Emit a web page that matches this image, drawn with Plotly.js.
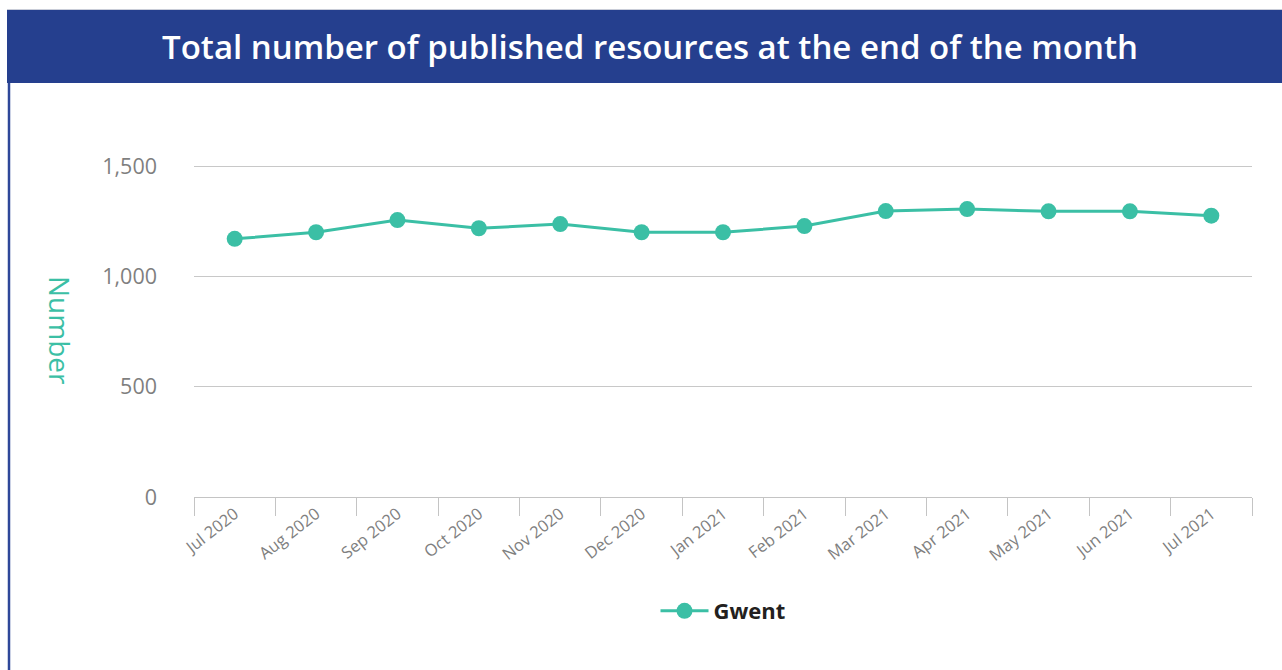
<!DOCTYPE html>
<html>
<head>
<meta charset="utf-8">
<script src="https://cdn.plot.ly/plotly-3.0.1.min.js"></script>
<style>
  html, body { margin: 0; padding: 0; background: #ffffff; }
  #chart { width: 1282px; height: 670px; }
</style>
</head>
<body>
<div id="chart"></div>
<script>
// ---- Data ----
const months = ["Jul 2020", "Aug 2020", "Sep 2020", "Oct 2020", "Nov 2020", "Dec 2020",
                "Jan 2021", "Feb 2021", "Mar 2021", "Apr 2021", "May 2021", "Jun 2021", "Jul 2021"];
const gwent = [1170, 1200, 1255, 1218, 1237, 1200, 1200, 1228, 1296, 1305, 1295, 1295, 1275];
const seriesName = "Gwent";
const yTickVals = [0, 500, 1000, 1500];
const chartTitle = "Total number of published resources at the end of the month";
const yTitle = "Number";

// ---- Layout geometry ----
const W = 1282, H = 670;
const M = { l: 194, r: 30, t: 144, b: 173 };
const plotW = W - M.l - M.r;
const plotH = H - M.t - M.b;
const px = x => (x - M.l) / plotW;          // pixel -> paper x
const py = y => (H - M.b - y) / plotH;      // pixel -> paper y

const teal = "#3bbfa5";
const navy = "#253f8e";
const grey = "#7f7f7f";

const trace = {
  type: "scatter",
  mode: "lines+markers",
  x: months,
  y: gwent,
  name: seriesName,
  line: { color: teal, width: 3 },
  marker: { color: teal, size: 16 },
  cliponaxis: false
};

const layout = {
  width: W, height: H,
  margin: M,
  paper_bgcolor: "#ffffff",
  plot_bgcolor: "#ffffff",
  font: { family: "Open Sans, Noto Sans, sans-serif", color: grey },
  title: {
    text: chartTitle,
    font: { family: "Open Sans, sans-serif", size: 33, color: "#ffffff", weight: 600 },
    xref: "container", yref: "container",
    x: 650 / W, xanchor: "center",
    y: 1 - 47 / H, yanchor: "middle"
  },
  xaxis: {
    type: "category",
    range: [-0.5, months.length - 0.5],
    tickson: "boundaries",
    ticks: "outside",
    ticklen: 18,
    tickwidth: 1,
    tickcolor: "#c4c4c4",
    showline: true,
    linecolor: "#c4c4c4",
    linewidth: 1,
    showgrid: false,
    zeroline: false,
    tickangle: -38,
    tickfont: { size: 16.5, color: grey, family: "Open Sans, sans-serif" },
    fixedrange: true
  },
  yaxis: {
    range: [0, 1600],
    tickvals: yTickVals,
    tickformat: ",d",
    showgrid: true,
    gridcolor: "#c8c8c8",
    gridwidth: 1,
    zeroline: false,
    showline: false,
    ticks: "",
    ticklabelstandoff: 36,
    tickfont: { size: 21.5, color: grey, family: "Open Sans, sans-serif" },
    fixedrange: true
  },
  showlegend: true,
  legend: {
    orientation: "h",
    x: 0.5, xanchor: "center",
    y: py(611), yanchor: "middle",
    itemwidth: 48,
    font: { size: 22, color: "#231f20", family: "Open Sans, sans-serif", weight: 700 },
    bgcolor: "rgba(0,0,0,0)"
  },
  annotations: [
    {
      text: yTitle,
      xref: "paper", yref: "paper",
      x: px(60), y: py(330),
      xanchor: "center", yanchor: "middle",
      textangle: 90,
      showarrow: false,
      font: { size: 28, color: teal, family: "Open Sans, sans-serif", weight: 500 }
    }
  ],
  shapes: [
    { type: "rect", xref: "paper", yref: "paper",
      x0: px(7), x1: px(W + 2), y0: py(83), y1: py(10),
      fillcolor: navy, line: { width: 0 }, layer: "above" },
    { type: "line", xref: "paper", yref: "paper",
      x0: px(7), x1: px(W + 2), y0: py(9.5), y1: py(9.5),
      line: { color: "#c9cdd8", width: 1 }, layer: "above" },
    { type: "line", xref: "paper", yref: "paper",
      x0: px(9), x1: px(9), y0: py(83), y1: py(H + 2),
      line: { color: "#2e4799", width: 2.5 }, layer: "above" }
  ]
};

Plotly.newPlot("chart", [trace], layout, { displayModeBar: false, staticPlot: true });
</script>
</body>
</html>
